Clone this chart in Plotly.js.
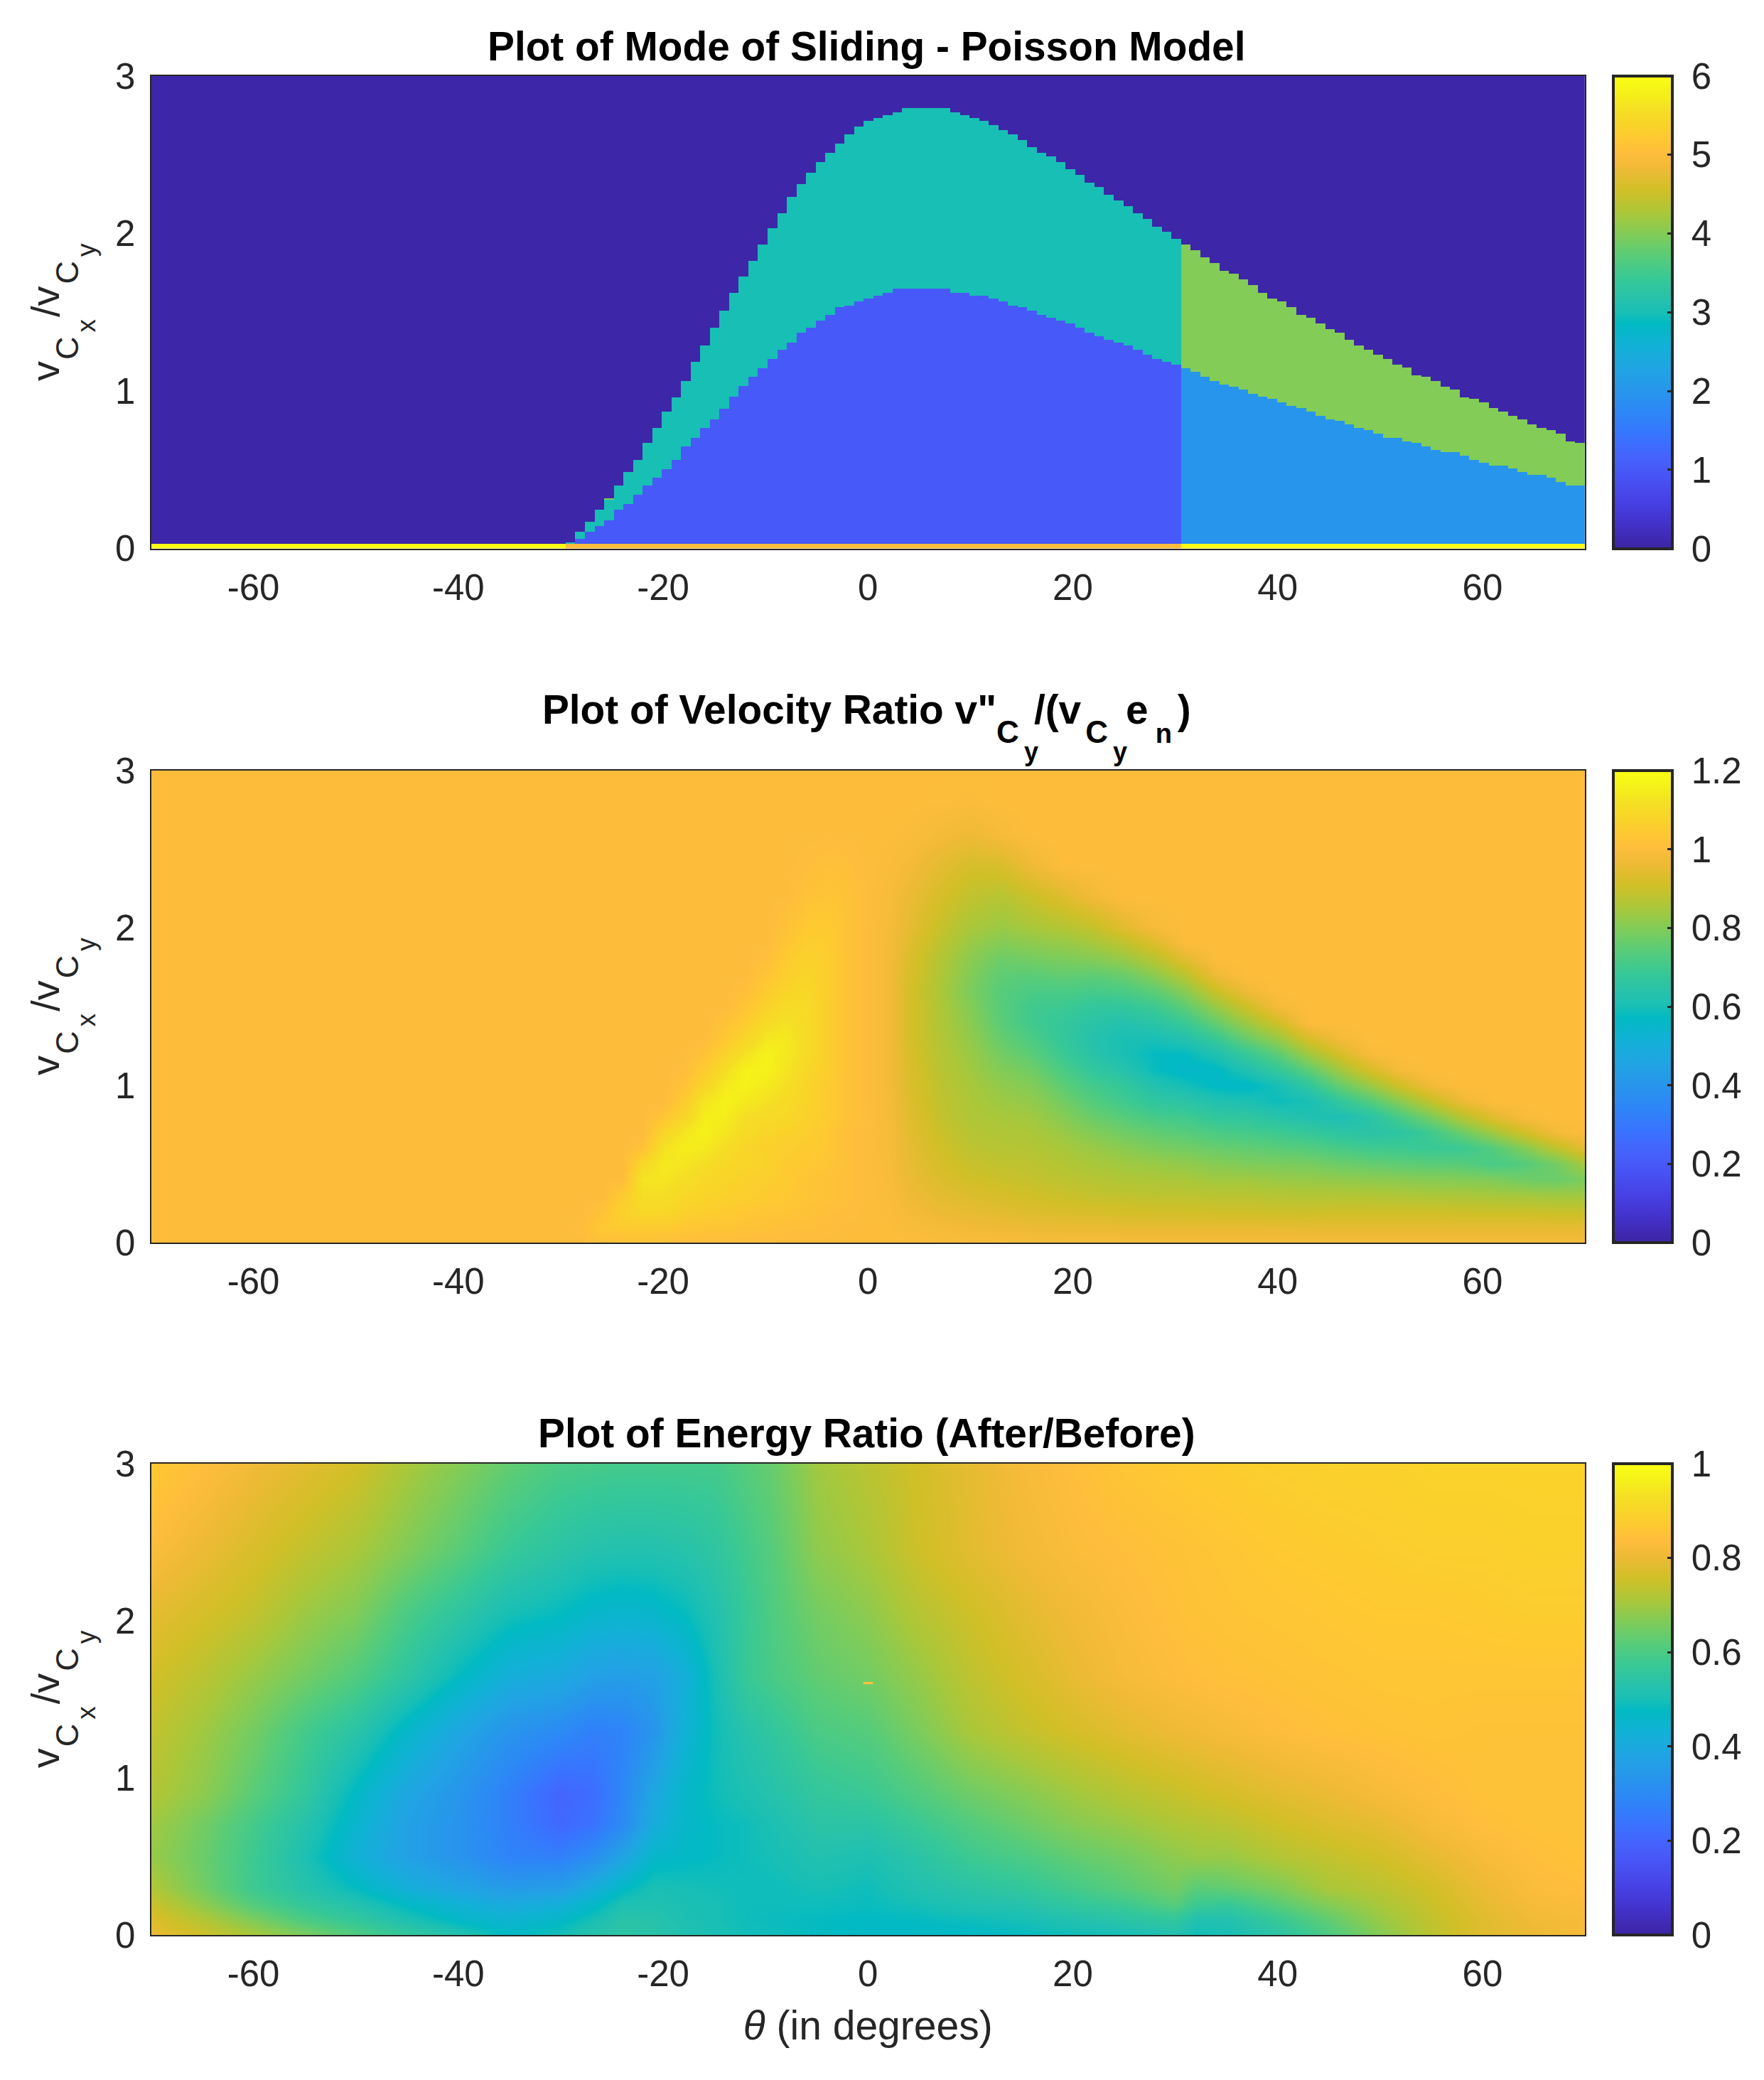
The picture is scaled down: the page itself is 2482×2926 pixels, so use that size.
<!DOCTYPE html>
<html><head><meta charset="utf-8">
<script src="https://cdn.plot.ly/plotly-3.0.1.min.js"></script>
<style>html,body{margin:0;padding:0;background:#fff}</style></head>
<body><div id="chart" style="width:2482px;height:2926px"></div>
<script>
// ---- shared tick labels ----
const xTickVals = [-60,-40,-20,0,20,40,60];
const xTickText = ['-60','-40','-20','0','20','40','60'];
const yTickVals = [0,1,2,3];
const yTickText = ['0','1','2','3'];
const cb1Vals = [0,1,2,3,4,5,6];
const cb1Text = ['0','1','2','3','4','5','6'];
const cb2Vals = [0,0.2,0.4,0.6,0.8,1,1.2];
const cb2Text = ['0','0.2','0.4','0.6','0.8','1','1.2'];
const cb3Vals = [0,0.2,0.4,0.6,0.8,1];
const cb3Text = ['0','0.2','0.4','0.6','0.8','1'];

// ---- panel 1: sliding-mode region limits, one reading per grid column, left to right from theta = -29.5 ----
const modeUpper = [0.039,0.110,0.168,0.249,0.309,0.401,0.483,0.565,0.670,0.764,0.868,0.962,1.067,1.185,1.288,1.406,1.509,1.626,1.731,1.825,1.930,2.036,2.128,2.233,2.315,2.384,2.456,2.514,2.572,2.631,2.678,2.714,2.736,2.748,2.770,2.794,2.794,2.794,2.794,2.794,2.770,2.748,2.736,2.714,2.689,2.656,2.631,2.596,2.549,2.514,2.491,2.456,2.409,2.375,2.326,2.293,2.246,2.210,2.175,2.128,2.094,2.046,2.012,1.965,1.930,1.896,1.849,1.814,1.767,1.744,1.709,1.673,1.627,1.592,1.568,1.533,1.486,1.464,1.429,1.395,1.370,1.324,1.289,1.265,1.230,1.206,1.172,1.148,1.101,1.090,1.066,1.032,1.009,0.962,0.950,0.928,0.893,0.869,0.846,0.822,0.788,0.765,0.753,0.730,0.682,0.670];
const modeLower = [0.0285,0.064,0.110,0.146,0.180,0.249,0.286,0.344,0.402,0.449,0.507,0.565,0.648,0.706,0.764,0.822,0.891,0.964,1.033,1.089,1.147,1.207,1.265,1.312,1.370,1.406,1.452,1.486,1.533,1.546,1.568,1.591,1.604,1.626,1.651,1.651,1.651,1.651,1.651,1.651,1.626,1.626,1.604,1.604,1.591,1.568,1.546,1.535,1.510,1.486,1.464,1.452,1.428,1.406,1.370,1.348,1.323,1.312,1.288,1.265,1.230,1.207,1.183,1.172,1.147,1.125,1.089,1.067,1.042,1.031,1.009,0.986,0.964,0.950,0.928,0.905,0.893,0.869,0.846,0.822,0.810,0.788,0.765,0.753,0.730,0.706,0.706,0.682,0.670,0.648,0.625,0.613,0.613,0.589,0.566,0.544,0.530,0.530,0.508,0.483,0.471,0.471,0.449,0.426,0.402,0.402];
const modeBottomRowTop = 0.0285;
const modeStartTheta = -29.51;
const modeColumnStep = 0.9387;
const modeColumnsLeft = 44;
const modeSwitchColumn = 64;
const sliverColumn = 4, sliverTop = 0.320;

// ---- panel 2: velocity ratio readings, one list per theta column, bottom upward; rows past the end of a list read 1 ----
const theta2 = [-70,-30,-28,-26,-24,-22,-20,-18,-16,-14,-12,-10,-8,-6,-4,-2,0,2,4,7,10,13,16,19,22,25,28,31,34,37,40,43,46,49,52,55,58,61,64,67,70];
const ratioY = [0,0.1,0.2,0.3,0.4,0.5,0.6,0.7,0.8,0.9,1,1.1,1.2,1.3,1.4,1.5,1.6,1.7,1.8,1.9,2,2.2,2.4,2.6,2.8,3];
const ratioColumns = [
[1],[1],
[1,1.005],
[1.01,1.04,1.02],
[1.01,1.05,1.07,1.05],
[1.01,1.05,1.09,1.11,1.13,1.09,1.02],
[1.01,1.05,1.09,1.11,1.13,1.14,1.12,1.08,1.03],
[1.005,1.04,1.07,1.09,1.11,1.13,1.15,1.13,1.08,1.05,1.02,1.005],
[1.005,1.03,1.06,1.08,1.09,1.11,1.14,1.16,1.15,1.13,1.08,1.05,1.02,1],
[1,1.03,1.05,1.07,1.08,1.09,1.11,1.13,1.15,1.16,1.14,1.11,1.07,1.04,1.02,1],
[1,1.02,1.04,1.06,1.07,1.08,1.08,1.1,1.11,1.14,1.16,1.16,1.12,1.08,1.05,1.03,1.01],
[1,1.02,1.03,1.05,1.06,1.07,1.07,1.08,1.1,1.12,1.14,1.16,1.16,1.13,1.1,1.07,1.05,1.03,1.01],
[1,1.01,1.03,1.04,1.05,1.05,1.06,1.07,1.09,1.1,1.115,1.13,1.14,1.14,1.12,1.1,1.08,1.06,1.05,1.03,1.02],
[1,1.01,1.02,1.03,1.03,1.04,1.05,1.06,1.07,1.08,1.08,1.09,1.1,1.1,1.1,1.1,1.09,1.08,1.07,1.06,1.045,1.02,1.005],
[1,1.005,1.01,1.02,1.02,1.03,1.04,1.04,1.05,1.05,1.05,1.06,1.06,1.06,1.06,1.06,1.06,1.06,1.06,1.055,1.05,1.03,1.015],
[1,1,1.005,1.01,1.01,1.01,1.01,1.01,1.02,1.02,1.02,1.02,1.02,1.02,1.02,1.02,1.02,1.02,1.02,1.02,1.02,1.02,1.01],
[1],
[1,0.998,0.995,0.993,0.99,0.988,0.985,0.985,0.982,0.982,0.98,0.98,0.98,0.978,0.978,0.978,0.978,0.978,0.98,0.98,0.982,0.988,0.993,0.998],
[1,0.99,0.98,0.97,0.96,0.955,0.95,0.945,0.94,0.935,0.93,0.93,0.925,0.92,0.92,0.92,0.92,0.925,0.93,0.94,0.95,0.96,0.98,0.995],
[0.995,0.98,0.96,0.945,0.93,0.92,0.91,0.9,0.89,0.885,0.88,0.875,0.87,0.865,0.86,0.86,0.855,0.86,0.865,0.88,0.895,0.92,0.945,0.98,0.998],
[0.995,0.97,0.95,0.93,0.91,0.895,0.88,0.87,0.86,0.855,0.85,0.84,0.83,0.82,0.81,0.8,0.79,0.8,0.81,0.83,0.85,0.885,0.92,0.965,0.995],
[0.99,0.965,0.94,0.92,0.9,0.885,0.87,0.86,0.85,0.835,0.82,0.8,0.78,0.76,0.745,0.74,0.74,0.75,0.77,0.8,0.83,0.87,0.925,0.985],
[0.99,0.96,0.93,0.91,0.89,0.88,0.865,0.855,0.84,0.82,0.8,0.775,0.745,0.72,0.7,0.7,0.72,0.745,0.78,0.815,0.85,0.9,0.97],
[0.99,0.955,0.925,0.9,0.88,0.865,0.85,0.83,0.805,0.78,0.75,0.72,0.69,0.675,0.675,0.695,0.72,0.755,0.79,0.825,0.865,0.935],
[0.99,0.955,0.92,0.89,0.87,0.85,0.83,0.8,0.765,0.735,0.705,0.67,0.64,0.63,0.645,0.67,0.71,0.75,0.8,0.845,0.89,0.975],
[0.99,0.95,0.915,0.885,0.86,0.84,0.81,0.775,0.74,0.7,0.675,0.635,0.605,0.605,0.63,0.67,0.72,0.765,0.825,0.88,0.94],
[0.99,0.95,0.91,0.88,0.855,0.83,0.79,0.755,0.71,0.665,0.625,0.58,0.575,0.605,0.65,0.695,0.75,0.81,0.87,0.93,0.985],
[0.99,0.95,0.91,0.88,0.85,0.82,0.78,0.74,0.7,0.65,0.595,0.555,0.575,0.63,0.69,0.75,0.81,0.875,0.94],
[0.99,0.95,0.905,0.875,0.84,0.805,0.765,0.72,0.67,0.62,0.565,0.565,0.62,0.69,0.765,0.83,0.9,0.97],
[0.99,0.95,0.905,0.875,0.84,0.795,0.755,0.71,0.665,0.61,0.56,0.62,0.685,0.77,0.84,0.905,0.97],
[0.99,0.95,0.9,0.87,0.83,0.79,0.745,0.695,0.64,0.585,0.6,0.675,0.75,0.83,0.91,0.98],
[0.99,0.945,0.9,0.865,0.825,0.785,0.735,0.68,0.62,0.6,0.665,0.75,0.84,0.925],
[0.99,0.945,0.905,0.865,0.82,0.77,0.715,0.655,0.61,0.67,0.76,0.84,0.92,0.98],
[0.99,0.945,0.905,0.865,0.815,0.76,0.7,0.645,0.645,0.735,0.83,0.92,0.99],
[0.99,0.945,0.905,0.86,0.81,0.75,0.695,0.655,0.72,0.81,0.91,0.985],
[0.99,0.945,0.905,0.855,0.805,0.745,0.685,0.7,0.79,0.89,0.975],
[0.99,0.945,0.9,0.855,0.8,0.74,0.69,0.77,0.87,0.965],
[0.99,0.945,0.9,0.85,0.795,0.715,0.735,0.84,0.94],
[0.99,0.945,0.9,0.845,0.775,0.735,0.8,0.91,0.99],
[0.99,0.945,0.895,0.84,0.765,0.775,0.875,0.975],
[0.99,0.945,0.895,0.84,0.79,0.85,0.95]
];
const ratioZ = ratioColumns.map(c => c.concat(new Array(ratioY.length - c.length).fill(1)));

// ---- panel 3: energy ratio readings, one list per y row, bottom upward ----
const theta3 = [-70,-65,-60,-55,-50,-45,-40,-35,-30,-27,-24,-21,-18,-15,-12,-9,-5,0,5,10,15,20,25,30,32,35,40,45,50,55,60,65,70];
const energyY = [0,0.1,0.2,0.3,0.5,0.7,0.9,1.3,1.65,2.05,2.45,3];
const energyZ = [
[0.8,0.755,0.71,0.66,0.61,0.565,0.525,0.475,0.5,0.53,0.545,0.535,0.52,0.505,0.495,0.49,0.48,0.47,0.47,0.47,0.48,0.49,0.5,0.52,0.49,0.5,0.54,0.6,0.67,0.73,0.78,0.8,0.82],
[0.775,0.72,0.66,0.6,0.56,0.51,0.465,0.44,0.465,0.5,0.535,0.53,0.51,0.5,0.49,0.485,0.48,0.475,0.48,0.49,0.5,0.52,0.54,0.56,0.52,0.52,0.57,0.63,0.69,0.74,0.78,0.81,0.82],
[0.75,0.68,0.61,0.56,0.52,0.47,0.43,0.4,0.42,0.46,0.51,0.515,0.505,0.5,0.49,0.49,0.49,0.485,0.5,0.52,0.53,0.56,0.58,0.62,0.58,0.57,0.62,0.67,0.71,0.75,0.79,0.82,0.83],
[0.72,0.65,0.58,0.53,0.48,0.42,0.38,0.35,0.36,0.41,0.47,0.505,0.5,0.495,0.49,0.49,0.5,0.49,0.52,0.54,0.56,0.59,0.62,0.65,0.62,0.63,0.66,0.71,0.73,0.76,0.8,0.83,0.84],
[0.69,0.64,0.58,0.51,0.43,0.37,0.33,0.28,0.27,0.31,0.38,0.46,0.47,0.48,0.49,0.5,0.52,0.51,0.54,0.58,0.6,0.63,0.65,0.68,0.69,0.69,0.72,0.74,0.76,0.79,0.82,0.84,0.85],
[0.7,0.65,0.59,0.53,0.45,0.37,0.33,0.27,0.21,0.235,0.3,0.41,0.46,0.48,0.49,0.51,0.54,0.54,0.575,0.61,0.64,0.67,0.69,0.715,0.72,0.73,0.755,0.775,0.79,0.82,0.84,0.85,0.85],
[0.72,0.68,0.62,0.56,0.47,0.39,0.335,0.27,0.2,0.22,0.29,0.39,0.46,0.49,0.51,0.53,0.56,0.575,0.61,0.645,0.67,0.7,0.725,0.745,0.755,0.765,0.785,0.8,0.82,0.835,0.85,0.85,0.85],
[0.74,0.7,0.65,0.59,0.54,0.46,0.39,0.33,0.3,0.27,0.28,0.33,0.43,0.49,0.53,0.56,0.6,0.615,0.66,0.71,0.74,0.765,0.785,0.805,0.81,0.82,0.835,0.845,0.85,0.855,0.85,0.85,0.85],
[0.76,0.73,0.69,0.65,0.61,0.55,0.48,0.42,0.4,0.37,0.36,0.37,0.42,0.5,0.57,0.6,0.63,0.65,0.69,0.735,0.765,0.795,0.82,0.835,0.84,0.845,0.85,0.855,0.86,0.86,0.86,0.86,0.86],
[0.79,0.765,0.74,0.695,0.665,0.6,0.55,0.5,0.48,0.46,0.45,0.46,0.48,0.52,0.57,0.61,0.65,0.68,0.725,0.755,0.785,0.81,0.83,0.845,0.85,0.855,0.86,0.865,0.87,0.87,0.875,0.88,0.88],
[0.83,0.8,0.77,0.74,0.71,0.665,0.62,0.57,0.54,0.525,0.52,0.52,0.53,0.55,0.585,0.62,0.68,0.71,0.755,0.785,0.81,0.83,0.84,0.85,0.855,0.86,0.87,0.875,0.88,0.885,0.885,0.89,0.89],
[0.87,0.84,0.81,0.785,0.76,0.71,0.67,0.63,0.6,0.595,0.59,0.59,0.59,0.59,0.615,0.64,0.7,0.73,0.76,0.79,0.82,0.84,0.86,0.87,0.875,0.88,0.885,0.89,0.89,0.895,0.895,0.895,0.895]
];
const energySpeckTheta = [-0.47,0.47], energySpeckY = [1.595,1.61], energySpeckZ = [[0.85]];

// ---- parula colour table: entries by index out of 63, placed at the middle of their 64 equal bins ----
const parulaStops = [[0,'#3E26A8'],[3,'#4332CB'],[6,'#4741E5'],[9,'#4852F4'],[12,'#4563FD'],[15,'#3875FE'],[18,'#2D87F7'],[21,'#2796EB'],[24,'#20A5E3'],[27,'#12B1D6'],[30,'#02BAC3'],[31.5,'#18BFB5'],[33,'#24C1AE'],[36,'#37C897'],[39,'#57CC7A'],[42,'#80CC59'],[45,'#ABC739'],[48,'#D1BF27'],[51,'#EFBA36'],[53,'#FEBD3C'],[55,'#FEC832'],[57,'#F9D429'],[59,'#F5DF24'],[61,'#F5EF1A'],[63,'#F9FB15']];
const parula = [[0, parulaStops[0][1]]].concat(parulaStops.map(s => [(s[0] + 0.5) / 64, s[1]])).concat([[1, '#F9FB15']]);

// ---- build panel-1 grid ----
const modeEdgesX = [];
for (let i = -modeColumnsLeft; i <= modeUpper.length; i++) modeEdgesX.push(modeStartTheta + i * modeColumnStep);
const modeRowsY = [];
for (let r = 0; r < 600; r++) modeRowsY.push(0.0025 + r * 0.005);
const modeZ = modeRowsY.map(y => modeEdgesX.slice(0, -1).map((_, i) => {
  const c = i - modeColumnsLeft;
  const right = c >= modeSwitchColumn;
  if (y < modeBottomRowTop) return (c < 0 || right) ? 6 : 5;
  if (c < 0) return 0;
  if (y < modeLower[c]) return right ? 2 : 1;
  if (y < modeUpper[c]) return right ? 4 : 3;
  if (c === sliverColumn && y < sliverTop) return 4;
  return 0;
}));

const W = 2482, H = 2926;
const left = 212.5, right = 2230, cbLeft = 2270;
const panels = [[107, 771.5], [1084, 1748], [2059, 2722]];
const dom = p => [1 - p[1] / H, 1 - p[0] / H];
const domX = [left / W, right / W];

function cbar(i, vals, text) {
  const d = dom(panels[i]);
  return { x: cbLeft / W, xanchor: 'left', xref: 'paper', y: (d[0] + d[1]) / 2, yanchor: 'middle', yref: 'paper',
    len: d[1] - d[0], lenmode: 'fraction', thickness: 83, thicknessmode: 'pixels', xpad: 0, ypad: 0,
    outlinecolor: '#262626', outlinewidth: 4, borderwidth: 0,
    tickmode: 'array', tickvals: vals, ticktext: text, ticks: 'inside', ticklen: 9, tickwidth: 3, tickcolor: '#262626',
    tickfont: { family: 'Liberation Sans', size: 51, color: '#262626' } };
}

const traces = [
  { type: 'heatmap', x: modeEdgesX, y: modeRowsY, z: modeZ, zmin: 0, zmax: 6, zsmooth: false, colorscale: parula, xaxis: 'x', yaxis: 'y', colorbar: cbar(0, cb1Vals, cb1Text), hoverinfo: 'skip' },
  { type: 'heatmap', x: theta2, y: ratioY, z: ratioZ, transpose: true, zmin: 0, zmax: 1.2, zsmooth: 'best', colorscale: parula, xaxis: 'x2', yaxis: 'y2', colorbar: cbar(1, cb2Vals, cb2Text), hoverinfo: 'skip' },
  { type: 'heatmap', x: theta3, y: energyY, z: energyZ, zmin: 0, zmax: 1, zsmooth: 'best', colorscale: parula, xaxis: 'x3', yaxis: 'y3', colorbar: cbar(2, cb3Vals, cb3Text), hoverinfo: 'skip' },
  { type: 'heatmap', x: energySpeckTheta, y: energySpeckY, z: energySpeckZ, zmin: 0, zmax: 1, colorscale: parula, showscale: false, xaxis: 'x3', yaxis: 'y3', hoverinfo: 'skip' }
];

const tickFont = { family: 'Liberation Sans', size: 51, color: '#262626' };
const yLabelPlain = 'v<sub>C<sub>x</sub></sub> /v<sub>C<sub>y</sub></sub>';
function xAxis(i, extra) {
  return Object.assign({ domain: domX, range: [-70, 70], anchor: i ? 'y' + (i + 1) : 'y', tickmode: 'array', tickvals: xTickVals, ticktext: xTickText,
    ticks: 'outside', ticklen: 9, tickcolor: 'rgba(0,0,0,0)', showgrid: false, zeroline: false, showline: true, mirror: true, linecolor: '#262626', linewidth: 2, tickfont: tickFont }, extra || {});
}
function yAxis(i) {
  return { domain: dom(panels[i]), range: [0, 3], anchor: i ? 'x' + (i + 1) : 'x', tickmode: 'array', tickvals: yTickVals, ticktext: yTickText,
    ticks: 'outside', ticklen: 10, tickcolor: 'rgba(0,0,0,0)', showgrid: false, zeroline: false, showline: true, mirror: true, linecolor: '#262626', linewidth: 2, tickfont: tickFont,
    title: { text: yLabelPlain, font: { family: 'Liberation Sans', size: 56, color: '#262626' }, standoff: 60 } };
}
const titleFont = { family: 'Liberation Sans', size: 56.8, color: '#000' };
function title(text, py) {
  return { text: '<b>' + text + '</b>', xref: 'paper', yref: 'paper', x: 1219 / W, y: 1 - py / H, xanchor: 'center', yanchor: 'middle', showarrow: false, font: titleFont };
}
const layout = {
  width: W, height: H, margin: { l: 0, r: 0, t: 0, b: 0 }, paper_bgcolor: '#fff', plot_bgcolor: '#fff', showlegend: false,
  xaxis: xAxis(0), xaxis2: xAxis(1),
  xaxis3: xAxis(2, { title: { text: '<i>\u03B8</i> (in degrees)', font: { family: 'Liberation Sans', size: 57, color: '#262626' }, standoff: 25 } }),
  yaxis: yAxis(0), yaxis2: yAxis(1), yaxis3: yAxis(2),
  annotations: [
    title('Plot of Mode of Sliding - Poisson Model', 66),
    title('Plot of Velocity Ratio v"<sub>C<sub>y</sub></sub>/(v<sub>C<sub>y</sub></sub>e<sub>n</sub>)', 1005),
    title('Plot of Energy Ratio (After/Before)', 2016)
  ]
};

// nested subscripts are drawn larger and lower than the library's own sub tag allows
const NS = 'http://www.w3.org/2000/svg';
function setRich(textEl, segs, bold) {
  while (textEl.firstChild) textEl.removeChild(textEl.firstChild);
  segs.forEach(s => {
    const t = document.createElementNS(NS, 'tspan');
    t.textContent = s[0];
    t.setAttribute('style', 'font-size:' + s[1] + 'px' + (bold ? ';font-weight:bold' : ''));
    t.setAttribute('dy', s[2]);
    t.setAttribute('dx', s[3] || 0);
    textEl.appendChild(t);
  });
}
const yLabelSegs = [['v',56,0,0],['C',45,27,2],['x',37,24,6],['/v',56,-51,3],['C',45,27,3],['y',37,24,6]];
const title2Segs = [['Plot of Velocity Ratio v"',56.8,0,0],['C',44,27,0],['y',36,25,7],['/(v',56.8,-52,-6],['C',44,27,6],['y',36,25,7],['e',56.8,-52,-2],['n',38,27,10],[')',56.8,-27,8]];

Plotly.newPlot('chart', traces, layout, { displayModeBar: false, staticPlot: true }).then(() => {
  document.querySelectorAll('.colorbar text').forEach(t => {
    t.setAttribute('x', (parseFloat(t.getAttribute('x')) || 0) + 14);
  });
  document.querySelectorAll('.g-ytitle text, .g-y2title text, .g-y3title text').forEach(t => setRich(t, yLabelSegs, false));
  const ann = document.querySelectorAll('.annotation-text-g text');
  if (ann[1]) setRich(ann[1], title2Segs, true);
});
</script></body></html>
